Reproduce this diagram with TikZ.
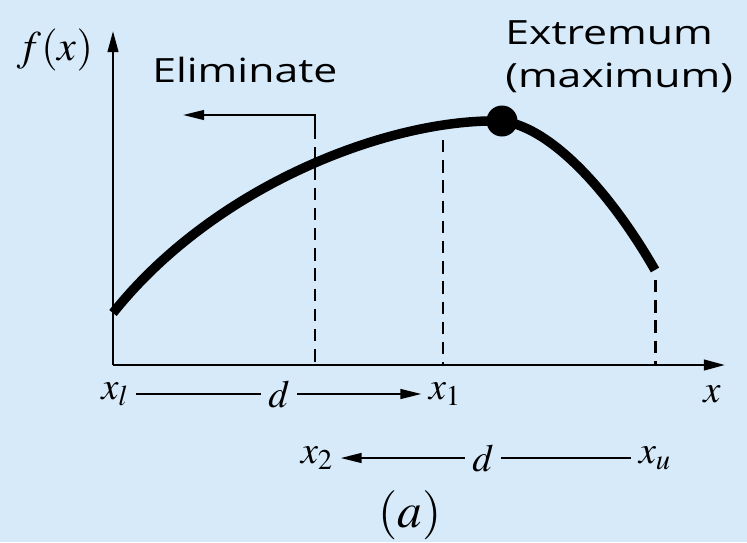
\documentclass[tikz,border=0pt]{standalone}
\usepackage{mathptmx}
\usepackage[no-math]{fontspec}
\setmainfont{Open Sans}
\usepackage{graphicx}
\usepackage{xcolor}
\usetikzlibrary{arrows.meta,positioning,calc}
\definecolor{bgblue}{RGB}{214,234,250}
\newcommand{\widetxt}[1]{\scalebox{1.28}[1]{#1}}

\begin{document}
\begin{tikzpicture}[x=0.02cm, y=-0.02cm,
  axis/.style={line width=1.4pt, -{Triangle[length=12pt,width=6pt]}},
  curve/.style={line width=5.4pt},
  guide/.style={line width=1.7pt, dash pattern=on 7pt off 4.5pt},
  dimline/.style={line width=1.3pt},
  dimarr/.style={line width=1.3pt, -{Triangle[length=12pt,width=5.5pt]}},
  lbl/.style={font=\fontsize{19}{24}\selectfont, inner sep=0pt, anchor=base west},
  mlbl/.style={font=\fontsize{22}{26}\selectfont, inner sep=4pt}
]
\fill[bgblue] (0,0) rectangle (747,542);
\useasboundingbox (0,0) rectangle (747,542);

% axes
\coordinate (O) at (113,365);
\coordinate (ytop) at (113,31);
\coordinate (xend) at (725,365);
\draw[axis] (O) -- (ytop);
\draw[axis] (O) -- (xend);
\node[mlbl, font=\fontsize{24}{28}\selectfont] (fx) at (55,50) {$f(x)$};
\node[mlbl] (xax) at (712,394) {$x$};

% function
\coordinate (peakpt) at (502,121);
\draw[curve] (113,313) .. controls (215,185) and (390,118) .. (peakpt)
  .. controls (555,128) and (615,200) .. (655,270);
\node[circle, fill=black, inner sep=0pt, minimum size=0.62cm] (peak) at (peakpt) {};

% guide lines
\coordinate (g2top) at (315,115);
\coordinate (g2bot) at (315,365);
\coordinate (g1top) at (443,140);
\coordinate (g1bot) at (443,365);
\coordinate (gutop) at (655,280);
\coordinate (gubot) at (655,365);
\draw[guide] (315,127) -- (g2bot);
\draw[guide] (g1top) -- (g1bot);
\draw[guide] (gutop) -- (gubot);
\coordinate (elimtip) at (183,115);
\draw[dimarr, line width=1.2pt] (315,130) -- (g2top) -- (elimtip);

\node[lbl] (elim) at (152,82) {\widetxt{Eliminate}};
\node[lbl, align=left] (ext) at (505,87) {\widetxt{Extremum}\\\widetxt{(maximum)}};

% interval labels
\node[mlbl] (xl) at (115,394) {$x_l$};
\node[mlbl] (d1) at (279,394) {$d$};
\node[mlbl] (x1) at (445,394) {$x_1$};
\draw[dimline] (xl) -- (d1);
\draw[dimarr] (d1) -- (x1);

\node[mlbl] (x2) at (317,458) {$x_2$};
\node[mlbl] (d2) at (483,458) {$d$};
\node[mlbl] (xu) at (655,458) {$x_u$};
\draw[dimarr] (d2) -- (x2);
\draw[dimline] (d2) -- (xu);

\node[mlbl, font=\fontsize{28}{32}\selectfont] (cap) at (410,515) {$(a)$};
\end{tikzpicture}
\end{document}
